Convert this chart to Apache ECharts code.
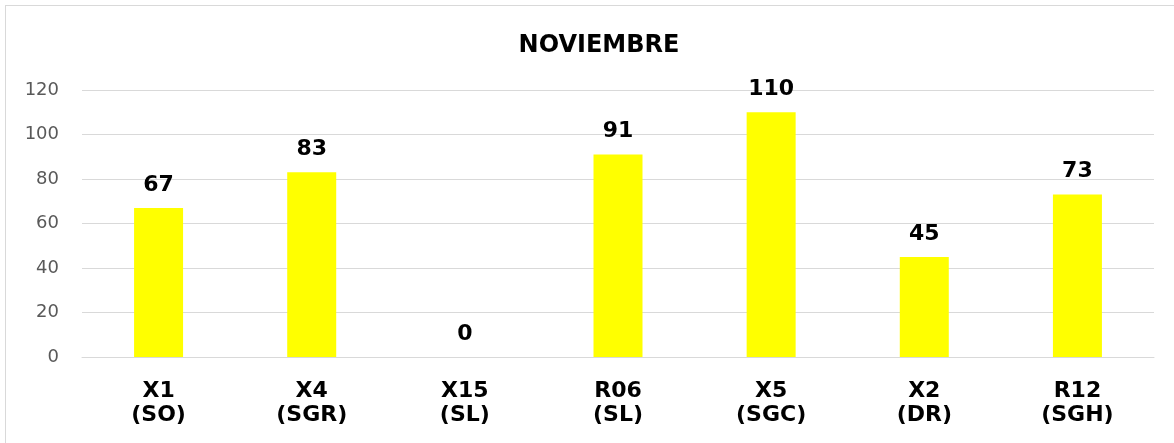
<!DOCTYPE html>
<html>
<head>
<meta charset="utf-8">
<script src="https://cdn.jsdelivr.net/npm/echarts@6/dist/echarts.min.js"></script>
<style>
  html, body { margin: 0; padding: 0; overflow: hidden; background: #fff; }
  #frame { position: absolute; left: 5px; top: 5px; width: 1200px; height: 500px; border: 1px solid #d9d9d9; }
  #main { position: absolute; left: 0; top: 0; width: 1174px; height: 443px; }
</style>
</head>
<body>
<div id="frame"></div>
<div id="main"></div>
<script>
var categories = ['X1\n(SO)', 'X4\n(SGR)', 'X15\n(SL)', 'R06\n(SL)', 'X5\n(SGC)', 'X2\n(DR)', 'R12\n(SGH)'];
var values = [67, 83, 0, 91, 110, 45, 73];
var yTicks = { min: 0, max: 120, interval: 20 };

var fontName = "'DejaVu Sans', sans-serif";

var chart = function () {
    var myChart = echarts.init(document.getElementById('main'));
    var option = {
        animation: false,
        title: {
            text: 'NOVIEMBRE',
            left: 594,
            top: 29,
            textAlign: 'center',
            textStyle: {
                fontFamily: fontName,
                fontWeight: 'bold',
                fontSize: 24,
                color: '#000'
            }
        },
        grid: {
            left: 82,
            right: 20,
            top: 90,
            bottom: 86
        },
        xAxis: {
            type: 'category',
            data: categories,
            axisLine: { lineStyle: { color: '#d9d9d9', width: 1 } },
            axisTick: { show: false },
            axisLabel: {
                margin: 22,
                fontFamily: fontName,
                fontWeight: 'bold',
                fontSize: 22,
                lineHeight: 24,
                color: '#000'
            }
        },
        yAxis: {
            type: 'value',
            min: yTicks.min,
            max: yTicks.max,
            interval: yTicks.interval,
            axisLine: { show: false },
            axisTick: { show: false },
            splitLine: { lineStyle: { color: '#d9d9d9', width: 1 } },
            axisLabel: {
                margin: 23,
                fontFamily: fontName,
                fontSize: 18,
                color: '#595959'
            }
        },
        series: [{
            type: 'bar',
            data: values,
            barWidth: 49,
            itemStyle: { color: '#ffff00' },
            label: {
                show: true,
                position: 'top',
                distance: 12,
                fontFamily: fontName,
                fontWeight: 'bold',
                fontSize: 22,
                color: '#000'
            }
        }]
    };
    myChart.setOption(option);
};
chart();
</script>
</body>
</html>
